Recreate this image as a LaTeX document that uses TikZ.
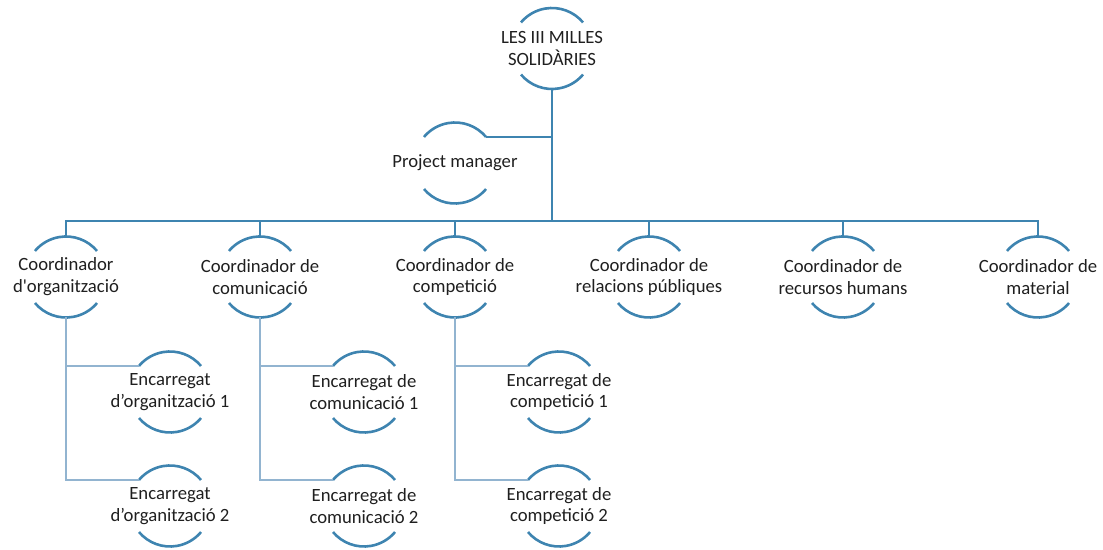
\documentclass[tikz,border=0pt]{standalone}
\usepackage{fontspec}
\setmainfont{Carlito}[Ligatures=TeXOff]
\definecolor{arcblue}{RGB}{62,132,176}
\definecolor{lightblue}{RGB}{146,180,208}
\tikzset{
  orgtext/.style={draw=none, inner sep=0pt, align=center, text=black!88,
    font=\fontsize{18.7}{21.8}\selectfont},
  arcline/.style={draw=arcblue, line width=2.6pt},
  darkline/.style={draw=arcblue, line width=2.6pt},
  lightline/.style={draw=lightblue, line width=2.6pt},
}
\newcommand\orgnode[3]{%
  \node[orgtext] (#1) at (#2) {#3};
  \coordinate (#1-top) at ([yshift=40.5pt]#1.center);
  \coordinate (#1-bot) at ([yshift=-40.5pt]#1.center);
  \coordinate (#1-tl) at ([shift={(140:40.5pt)}]#1.center);
  \coordinate (#1-tr) at ([shift={(40:40.5pt)}]#1.center);
  \coordinate (#1-bl) at ([shift={(220:40.5pt)}]#1.center);
  \draw[arcline] (#1-tr) arc[start angle=40, end angle=140, radius=40.5pt];
  \draw[arcline] (#1-bl) arc[start angle=220, end angle=320, radius=40.5pt];
}
\begin{document}
\begin{tikzpicture}[x=1pt, y=1pt]
\useasboundingbox (0,0) rectangle (1103,549);
% top
\orgnode{top}{552,500.5}{LES III MILLES\\SOLIDÀRIES}
\orgnode{pm}{455,386}{Project manager}
% level 2
\orgnode{c1}{66,272}{Coordinador\\d'organització}
\orgnode{c2}{260,272}{Coordinador de\\comunicació}
\orgnode{c3}{455,272}{Coordinador de\\competició}
\orgnode{c4}{649,272}{Coordinador de\\relacions públiques}
\orgnode{c5}{843,272}{Coordinador de\\recursos humans}
\orgnode{c6}{1038,272}{Coordinador de\\material}
% level 3
\orgnode{e11}{170,157}{Encarregat\\d’organització 1}
\orgnode{e12}{170,43}{Encarregat\\d’organització 2}
\orgnode{e21}{364,157}{Encarregat de\\comunicació 1}
\orgnode{e22}{364,43}{Encarregat de\\comunicació 2}
\orgnode{e31}{559,157}{Encarregat de\\competició 1}
\orgnode{e32}{559,43}{Encarregat de\\competició 2}
\coordinate (bus) at (552,328);
% dark connectors
\draw[darkline] (top-bot) -- (top-bot |- bus);
\draw[darkline] (pm-tr) -- (pm-tr -| top-bot);
\draw[darkline, line cap=rect] (c1-top |- bus) -- (c6-top |- bus);
\foreach \n in {c1,c2,c3,c4,c5,c6}{
  \draw[darkline] (\n-top) -- (\n-top |- bus);
}
% light connectors
\foreach \p/\a/\b in {c1/e11/e12, c2/e21/e22, c3/e31/e32}{
  \draw[lightline, line join=miter] (\p-bot) -- (\p-bot |- \b-tl) -- (\b-tl);
  \draw[lightline] (\p-bot |- \a-tl) -- (\a-tl);
}
\end{tikzpicture}
\end{document}
